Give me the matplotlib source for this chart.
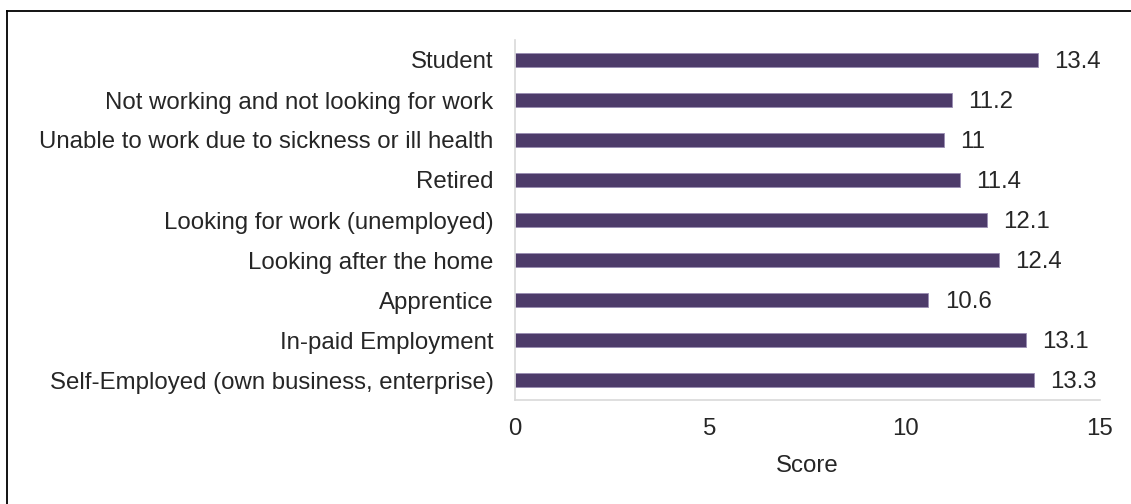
import matplotlib
matplotlib.use('Agg')
import matplotlib.pyplot as plt
from matplotlib.lines import Line2D

categories = ['Self-Employed (own business, enterprise)', 'In-paid Employment', 'Apprentice',
              'Looking after the home', 'Looking for work (unemployed)', 'Retired',
              'Unable to work due to sickness or ill health',
              'Not working and not looking for work', 'Student']
scores = [13.3, 13.1, 10.6, 12.4, 12.1, 11.4, 11.0, 11.2, 13.4]
value_labels = ['13.3', '13.1', '10.6', '12.4', '12.1', '11.4', '11', '11.2', '13.4']
xticks = [0, 5, 10, 15]

plt.rcParams['font.family'] = ['Liberation Sans', 'DejaVu Sans']
txt = '#262626'
fs = 17.3

fig = plt.figure(figsize=(11.31, 5.04), dpi=100)
ax = fig.add_axes([515 / 1131, 1 - 400 / 504, 585 / 1131, 360 / 504])

ypos = list(range(len(categories)))
ax.barh(ypos, scores, height=0.33, color='#4d3b6a', edgecolor='#9a8db3', linewidth=0.6)
for y, v, lab in zip(ypos, scores, value_labels):
    ax.text(v + 0.42, y, lab, va='center_baseline', ha='left', fontsize=fs, color=txt)

ax.set_xlim(0, 15)
ax.set_ylim(-0.5, len(categories) - 0.5)
ax.set_xticks(xticks)
ax.set_xticklabels([str(t) for t in xticks])
ax.set_yticks(ypos)
ax.set_yticklabels(categories)
ax.tick_params(axis='both', length=0, labelsize=fs, colors=txt)
ax.tick_params(axis='y', pad=15.5)
ax.tick_params(axis='x', pad=13)
ax.set_xlabel('Score', fontsize=fs, color=txt, labelpad=11)

for s in ['top', 'right']:
    ax.spines[s].set_visible(False)
for s in ['left', 'bottom']:
    ax.spines[s].set_color('#d9d9d9')
    ax.spines[s].set_linewidth(1.2)

# frame lines at top and left of the picture
fig.add_artist(Line2D([7 / 1131, 1], [1 - 10.7 / 504, 1 - 10.7 / 504], color='black', lw=1.3,
                      transform=fig.transFigure))
fig.add_artist(Line2D([7 / 1131, 7 / 1131], [0, 1 - 10.7 / 504], color='black', lw=1.3,
                      transform=fig.transFigure))

fig.savefig('out.png', dpi=100, facecolor='white')
